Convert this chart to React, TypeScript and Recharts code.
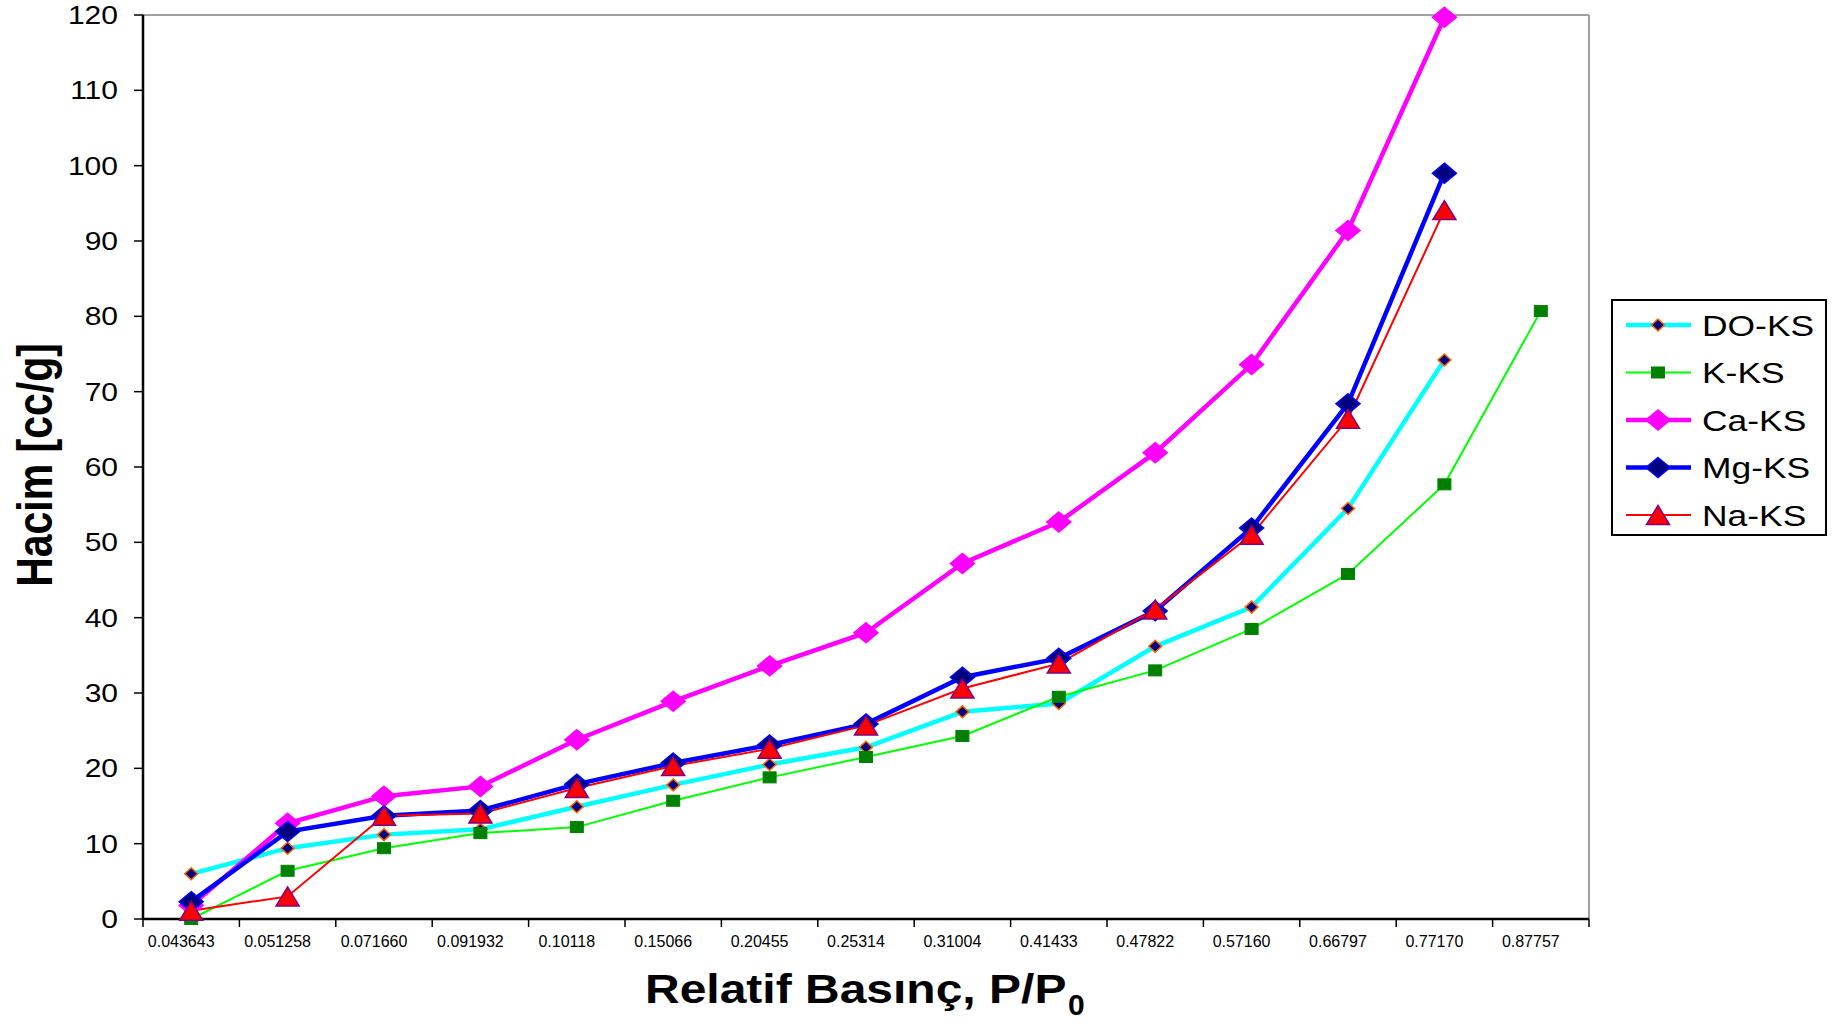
import React from "react";
import { LineChart, Line, XAxis, YAxis, ReferenceLine, Legend } from "recharts";

// relative pressure categories (x axis)
const pressures = [
  "0.043643", "0.051258", "0.071660", "0.091932", "0.10118", "0.15066", "0.20455", "0.25314",
  "0.31004", "0.41433", "0.47822", "0.57160", "0.66797", "0.77170", "0.87757",
];

// volume [cc/g] per series
const doKs = [6.0, 9.4, 11.2, 11.9, 14.9, 17.8, 20.5, 22.8, 27.5, 28.6, 36.2, 41.4, 54.5, 74.2, null];
const kKs = [0.0, 6.4, 9.4, 11.4, 12.2, 15.7, 18.8, 21.5, 24.3, 29.5, 33.0, 38.5, 45.8, 57.7, 80.7];
const caKs = [1.8, 12.7, 16.3, 17.6, 23.8, 28.9, 33.6, 38.0, 47.2, 52.7, 61.9, 73.6, 91.4, 119.7, null];
const mgKs = [2.3, 11.6, 13.7, 14.4, 17.9, 20.7, 23.1, 25.9, 32.1, 34.6, 40.9, 51.9, 68.4, 99.0, null];
const naKs = [1.1, 3.0, 13.7, 14.0, 17.4, 20.3, 22.6, 25.7, 30.6, 33.9, 41.1, 51.0, 66.4, 94.1, null];

const yTicks = [0, 10, 20, 30, 40, 50, 60, 70, 80, 90, 100, 110, 120];

const W = 1839;
const H = 1024;
const Y_W = 60;
const X_H = 50;
// plot area: x 143..1589, y 15..919
const M = { top: 15, right: 250, bottom: 105 - X_H, left: 143 - Y_W };
const BAND = (W - 143 - 250) / pressures.length;
const FONT = "'Liberation Sans', Arial, sans-serif";

type Series = {
  key: string; name: string; values: (number | null)[];
  stroke: string; width: number;
  marker: "diamond" | "square" | "triangle";
  mw: number; mh: number; fill: string; edge: string;
};

const series: Series[] = [
  { key: "DO", name: "DO-KS", values: doKs, stroke: "#00FFFF", width: 4.5, marker: "diamond", mw: 6.5, mh: 6, fill: "#000080", edge: "#FF6600" },
  { key: "K", name: "K-KS", values: kKs, stroke: "#00FF00", width: 2, marker: "square", mw: 6.5, mh: 5.5, fill: "#008000", edge: "#008000" },
  { key: "Ca", name: "Ca-KS", values: caKs, stroke: "#FF00FF", width: 4.5, marker: "diamond", mw: 12, mh: 10, fill: "#FF00FF", edge: "#FF00FF" },
  { key: "Mg", name: "Mg-KS", values: mgKs, stroke: "#0000FF", width: 4.5, marker: "diamond", mw: 12, mh: 10, fill: "#000080", edge: "#0000FF" },
  { key: "Na", name: "Na-KS", values: naKs, stroke: "#FF0000", width: 2, marker: "triangle", mw: 11.5, mh: 9.5, fill: "#FF0000", edge: "#800080" },
];

const rows = pressures.map((p, i) => {
  const r: any = { x: i + 0.5, p };
  series.forEach((s) => { r[s.key] = s.values[i]; });
  return r;
});

function drawMarker(s: Series, cx: number, cy: number) {
  if (s.marker === "square") {
    return <rect x={cx - s.mw} y={cy - s.mh} width={2 * s.mw} height={2 * s.mh} fill={s.fill} stroke={s.edge} strokeWidth={1} />;
  }
  if (s.marker === "triangle") {
    return (
      <polygon
        points={`${cx},${cy - s.mh} ${cx + s.mw},${cy + s.mh} ${cx - s.mw},${cy + s.mh}`}
        fill={s.fill} stroke={s.edge} strokeWidth={1.5}
      />
    );
  }
  return (
    <polygon
      points={`${cx},${cy - s.mh} ${cx + s.mw},${cy} ${cx},${cy + s.mh} ${cx - s.mw},${cy}`}
      fill={s.fill} stroke={s.edge} strokeWidth={1.5}
    />
  );
}

function XTick(props: any) {
  const { x, y, payload } = props;
  const i = payload.value;
  if (i >= pressures.length) return <g />;
  return (
    <text x={x + BAND / 2 - 10} y={y} dy="0.71em" textAnchor="middle" fontSize={16} fontFamily={FONT} fill="#000">
      {pressures[i]}
    </text>
  );
}

function YTick(props: any) {
  const { x, y, payload } = props;
  return (
    <text transform={`translate(${x},${y}) scale(1.2,1)`} textAnchor="end" dy="0.36em" fontSize={25} fontFamily={FONT} fill="#000">
      {payload.value}
    </text>
  );
}

function LegendBox(props: any) {
  const items = [...(props.payload || [])].sort(
    (a: any, b: any) => series.findIndex((s) => s.key === a.dataKey) - series.findIndex((s) => s.key === b.dataKey)
  );
  return (
    <svg width={216} height={237} style={{ display: "block" }}>
      <rect x={1} y={1} width={214} height={235} fill="#fff" stroke="#000" strokeWidth={2} />
      {items.map((entry: any, i: number) => {
        const s = series.find((z) => z.key === entry.dataKey)!;
        const cy = 26 + i * 47.5;
        return (
          <g key={s.key}>
            <line x1={15} x2={80} y1={cy} y2={cy} stroke={s.stroke} strokeWidth={s.width} />
            {drawMarker(s, 47, cy)}
            <text transform={`translate(91,${cy + 10.5}) scale(1.2,1)`} fontSize={29.5} fontFamily={FONT} fill="#000">
              {entry.value}
            </text>
          </g>
        );
      })}
    </svg>
  );
}

export default function App() {
  return (
    <div style={{ position: "absolute", left: 0, top: 0, width: W, height: H, background: "#fff" }}>
      <LineChart width={W} height={H} data={rows} margin={M}>
        <XAxis
          dataKey="x"
          type="number"
          domain={[0, pressures.length]}
          ticks={pressures.map((_, i) => i).concat(pressures.length)}
          allowDataOverflow
          height={X_H}
          tickSize={8}
          tickMargin={9}
          tick={<XTick />}
          tickLine={{ stroke: "#000", strokeWidth: 1.5 }}
          axisLine={{ stroke: "#000", strokeWidth: 2.5 }}
        />
        <YAxis
          domain={[0, 120]}
          ticks={yTicks}
          width={Y_W}
          tickSize={9}
          tickMargin={16}
          tick={<YTick />}
          tickLine={{ stroke: "#000", strokeWidth: 1.5 }}
          axisLine={{ stroke: "#000", strokeWidth: 2.5 }}
        />
        <ReferenceLine y={120} stroke="#A0A0A0" strokeWidth={2} />
        <ReferenceLine x={pressures.length} stroke="#A0A0A0" strokeWidth={2} />
        {series.map((s) => (
          <Line
            key={s.key}
            dataKey={s.key}
            name={s.name}
            type="linear"
            stroke={s.stroke}
            strokeWidth={s.width}
            isAnimationActive={false}
            activeDot={false}
            dot={(p: any) =>
              p.value == null || p.cy == null ? (
                <g key={`${s.key}-${p.index}`} />
              ) : (
                <g key={`${s.key}-${p.index}`}>{drawMarker(s, p.cx, p.cy)}</g>
              )
            }
          />
        ))}
        <Legend
          layout="vertical"
          align="center"
          verticalAlign="middle"
          width={216}
          height={237}
          wrapperStyle={{ left: 1611, top: 299, width: 216, height: 237 }}
          content={<LegendBox />}
        />
      </LineChart>
      <svg width={W} height={H} style={{ position: "absolute", left: 0, top: 0, pointerEvents: "none" }}>
        <text
          transform="translate(52,465) scale(1.2,1) rotate(-90)"
          textAnchor="middle"
          fontSize={41}
          fontWeight="bold"
          fontFamily={FONT}
          fill="#000"
        >
          Hacim [cc/g]
        </text>
        <text transform="translate(645,1003) scale(1.2,1)" fontSize={40} fontWeight="bold" fontFamily={FONT} fill="#000">
          Relatif Basınç, P/P
        </text>
        <text x={1068} y={1015} fontSize={30} fontWeight="bold" fontFamily={FONT} fill="#000">
          0
        </text>
      </svg>
    </div>
  );
}
